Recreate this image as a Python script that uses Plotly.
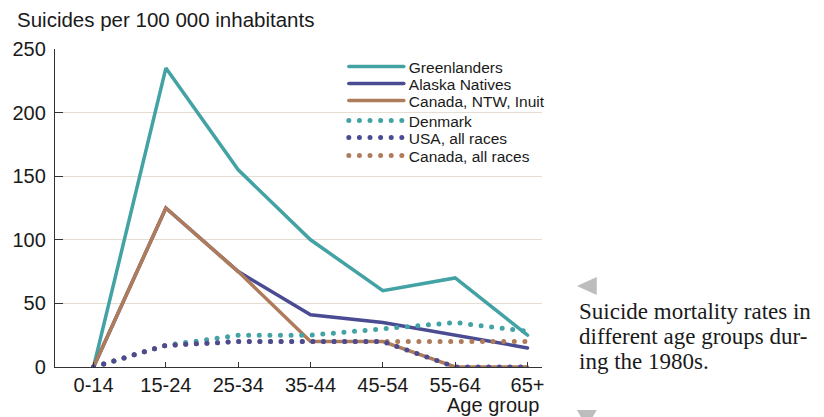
import plotly.graph_objects as go

# ---- data ----
age_groups = ["0-14", "15-24", "25-34", "35-44", "45-54", "55-64", "65+"]
greenlanders = [0, 235, 155, 100, 60, 70, 25]
alaska_natives = [0, 125, 75, 41, 35, 25, 15]
canada_ntw_inuit = [0, 125, 75, 20, 20, 0, 0]
denmark = [0, 17, 25, 25, 30, 35, 28]
usa_all_races = [0, 17, 20, 20, 20, 0, 0]
canada_all_races = [0, 17, 20, 20, 20, 20, 20]
y_ticks = [0, 50, 100, 150, 200, 250]

TEAL = "#43a2a4"
NAVY = "#4a4b93"
BROWN = "#ae7c5a"

# plot area in pixels
L, R, T, B = 53, 542, 49, 367
W, H = 824, 417


def px(x):
    return (x - L) / (R - L)


def py(y):
    return (B - y) / (B - T)


fig = go.Figure()
DOT = "0px,10.6px"
# name, values, colour, dash, width, legend id, legend row y (px)
series = [
    ("Greenlanders", greenlanders, TEAL, "solid", 3.5, "legend", 67),
    ("Alaska Natives", alaska_natives, NAVY, "solid", 3.5, "legend2", 84),
    ("Canada, NTW, Inuit", canada_ntw_inuit, BROWN, "solid", 3.5, "legend3", 101),
    ("Denmark", denmark, TEAL, DOT, 5, "legend4", 121),
    ("Canada, all races", canada_all_races, BROWN, DOT, 5, "legend6", 156),
    ("USA, all races", usa_all_races, NAVY, DOT, 5, "legend5", 138),
]
legends = {}
for name, vals, col, dash, w, lg, ly in series:
    fig.add_trace(go.Scatter(
        x=age_groups, y=vals, mode="lines", name=name,
        line=dict(color=col, width=w, dash=dash),
        cliponaxis=False, legend=lg,
    ))
    legends[lg] = dict(
        x=px(343), y=py(ly), xanchor="left", yanchor="middle",
        bgcolor="rgba(0,0,0,0)", font=dict(size=15.5, color="#1a1a1a"),
        itemwidth=55,
    )

fig.update_layout(
    width=W, height=H,
    margin=dict(l=L, r=W - R, t=T, b=H - B, pad=0),
    plot_bgcolor="white", paper_bgcolor="white",
    font=dict(family="Liberation Sans, Arial, sans-serif", size=20, color="#1a1a1a"),
    showlegend=True,
    xaxis=dict(
        type="category", range=[-0.533, 6.2], showgrid=False, zeroline=False,
        showline=True, linecolor="#333", linewidth=1.3,
        ticks="inside", ticklen=5, tickcolor="#333", tickwidth=1.2,
        tickfont=dict(size=20),
    ),
    yaxis=dict(
        range=[0, 250], tickvals=y_ticks, showgrid=True, gridcolor="#e6ddd2",
        gridwidth=1.2, zeroline=False, showline=True, linecolor="#333",
        linewidth=1.3, ticks="inside", ticklen=8, tickcolor="#333",
        tickwidth=1.2, tickfont=dict(size=20), ticklabelstandoff=4,
    ),
    **legends,
)

annotations = [
    dict(text="Suicides per 100 000 inhabitants", x=px(13), y=py(20),
         xanchor="left", yanchor="middle", font=dict(size=20.5)),
    dict(text="Age group", x=px(541), y=py(405), xanchor="right",
         yanchor="middle", font=dict(size=20)),
]
side_lines = ["Suicide mortality rates in", "different age groups dur-", "ing the 1980s."]
for i, t in enumerate(side_lines):
    annotations.append(dict(
        text=t, x=px(577), y=py(311 + 25 * i), xanchor="left", yanchor="middle",
        font=dict(family="Liberation Serif, Times New Roman, serif", size=23,
                  color="#1a1a1a")))
for a in annotations:
    a.update(xref="paper", yref="paper", showarrow=False)
fig.update_layout(annotations=annotations)


def tri(points):
    s = "M " + " L ".join(f"{px(x):.5f},{py(y):.5f}" for x, y in points) + " Z"
    return dict(type="path", xref="paper", yref="paper", path=s,
                fillcolor="#bdbdbd", line=dict(width=0))


fig.update_layout(shapes=[
    tri([(577, 286), (597, 277), (597, 295)]),
    tri([(577, 410), (597, 410), (587, 427)]),
])

post = ("document.body.style.margin='0';"
        "var st=document.createElement('style');"
        "st.innerHTML='body{margin:0;} .js-line{stroke-linecap:round;}';"
        "document.head.appendChild(st);")
fig.write_html("out.html", post_script=post, config={"displayModeBar": False})
